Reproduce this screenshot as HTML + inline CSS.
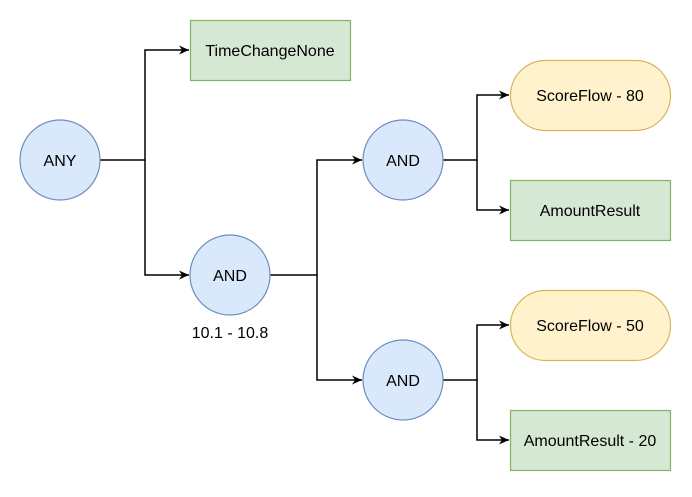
<!DOCTYPE html>
<html><head><style>body{margin:0;background:#fff}</style></head><body>
<svg width="692" height="492" viewBox="0 0 692 492" xmlns="http://www.w3.org/2000/svg" font-family="Liberation Sans, sans-serif" font-size="16">
<defs><marker id="a" markerWidth="12" markerHeight="12" refX="10" refY="6" orient="auto" markerUnits="userSpaceOnUse"><path d="M0,1.5 L10,6 L0,10.5 L3,6 Z" fill="#000"/></marker></defs>
<g fill="none" stroke="#000" stroke-width="1.5">
<path d="M100,160 H145 V50 H189" marker-end="url(#a)"/>
<path d="M145,160 V275 H189" marker-end="url(#a)"/>
<path d="M270,275 H317 V160 H362" marker-end="url(#a)"/>
<path d="M317,275 V380 H362" marker-end="url(#a)"/>
<path d="M443,160 H477 V95 H509" marker-end="url(#a)"/>
<path d="M477,160 V210 H509" marker-end="url(#a)"/>
<path d="M443,380 H477 V325 H509" marker-end="url(#a)"/>
<path d="M477,380 V440 H509" marker-end="url(#a)"/>
</g>
<g fill="#dae8fc" stroke="#6c8ebf" stroke-width="1.2">
<circle cx="60" cy="160" r="40"/><circle cx="230" cy="275" r="40"/>
<circle cx="403" cy="160" r="40"/><circle cx="403" cy="380" r="40"/>
</g>
<g fill="#d5e8d4" stroke="#82b366" stroke-width="1.2">
<rect x="190.5" y="20.5" width="160" height="60"/>
<rect x="510.5" y="180.5" width="160" height="60"/>
<rect x="510.5" y="410.5" width="160" height="60"/>
</g>
<g fill="#fff2cc" stroke="#d6b656" stroke-width="1.2">
<rect x="510.5" y="60.5" width="160" height="70" rx="35"/>
<rect x="510.5" y="290.5" width="160" height="70" rx="35"/>
</g>
<g text-anchor="middle" fill="#000">
<text x="60" y="166">ANY</text><text x="230" y="281">AND</text>
<text x="403" y="166">AND</text><text x="403" y="386">AND</text>
<text x="230" y="338">10.1 - 10.8</text>
<text x="270" y="56">TimeChangeNone</text>
<text x="590" y="101">ScoreFlow - 80</text>
<text x="590" y="216">AmountResult</text>
<text x="590" y="331">ScoreFlow - 50</text>
<text x="590" y="446">AmountResult - 20</text>
</g>
</svg>
</body></html>
